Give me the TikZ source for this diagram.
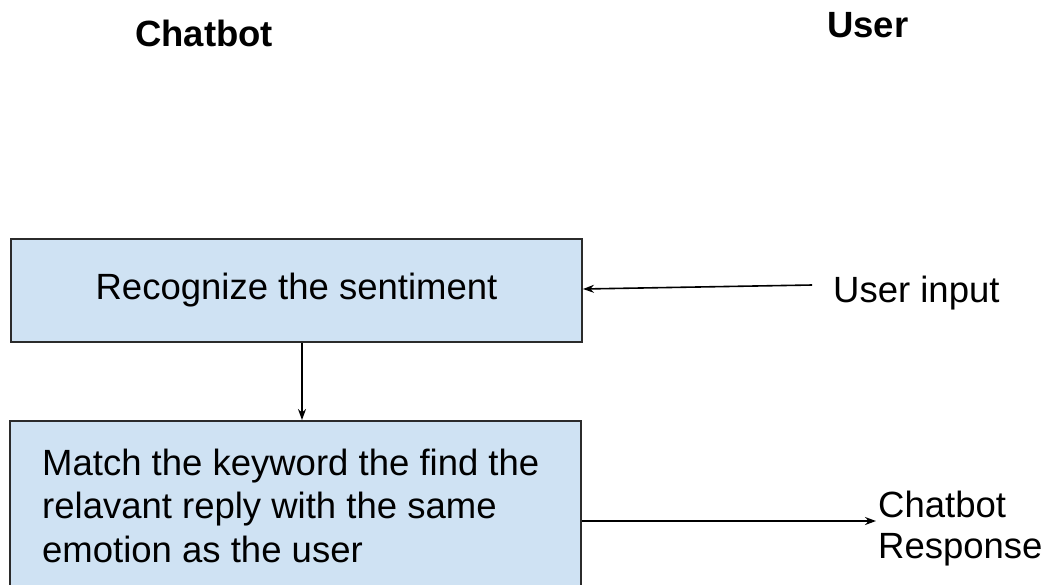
\documentclass[tikz,border=0pt]{standalone}
\usepackage{fontspec}
\setmainfont{Liberation Sans}
\usetikzlibrary{arrows.meta}
\definecolor{boxfill}{HTML}{CFE2F3}
\definecolor{boxline}{HTML}{2B2B2B}
\tikzset{
  heading/.style={font=\fontsize{36.5}{44}\selectfont\bfseries, inner sep=0pt, anchor=base west},
  plain/.style={font=\fontsize{36.5}{43.5}\selectfont, inner sep=0pt, align=left},
  stepbox/.style={draw=boxline, line width=2pt, fill=boxfill, inner sep=0pt},
  arr/.style={line width=1.6pt, -{Stealth[length=11pt,width=8pt]}},
}
\begin{document}
\begin{tikzpicture}[x=1pt,y=-1pt]
  \useasboundingbox (0,0) rectangle (1048,584);
  \clip (0,0) rectangle (1048,584);
  \fill[white] (0,0) rectangle (1048,584);

  % column headings
  \node[heading] (hbot) at (135,46) {Chatbot};
  \node[heading] (huser) at (827,37) {User};

  % processing steps
  \node[stepbox, minimum width=571pt, minimum height=103pt,
        font=\fontsize{36.5}{44}\selectfont] (sent) at (296.5,290.5) {Recognize the sentiment};
  \node[stepbox, minimum width=571pt, minimum height=190pt] (match) at (295.5,516) {};
  % base anchor of a multi-line node sits on its last line
  \node[plain, anchor=base west] (matchtxt) at (42,562)
    {Match the keyword the find the\\relavant reply with the same\\emotion as the user};

  % user side labels
  \node[plain, anchor=base west] (uin) at (833,302) {User input};
  \node[plain, anchor=base west, font=\fontsize{36.5}{41}\selectfont] (resp) at (878,558) {Chatbot\\Response};

  % connector end points
  \coordinate (uinStart) at (812,285);
  \coordinate (respTip) at (876,521);

  % connectors
  \draw[arr] (uinStart) -- ([yshift=1.5pt]sent.east);
  \draw[arr] ([xshift=5.5pt]sent.south) -- ([xshift=6.5pt]match.north);
  \draw[arr] (match.east |- respTip) -- (respTip);
\end{tikzpicture}
\end{document}
